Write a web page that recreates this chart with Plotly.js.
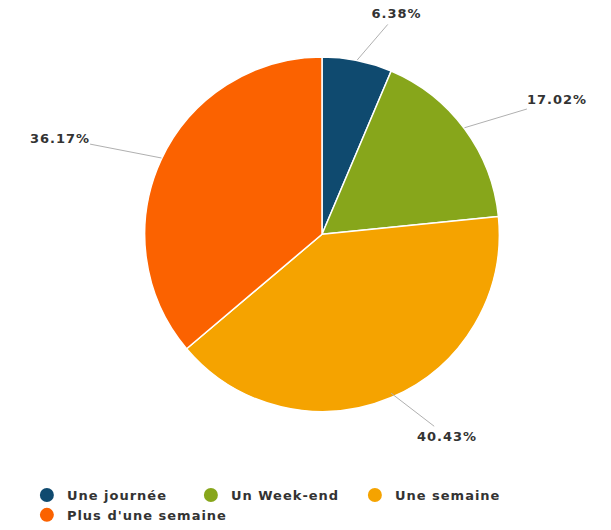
<!DOCTYPE html>
<html><head><meta charset="utf-8">
<script src="https://cdn.plot.ly/plotly-3.0.1.min.js"></script>
<style>
html,body{margin:0;padding:0;background:#fff}
#chart .legendtext, #chart .annotation-text{letter-spacing:1px}
</style>
</head><body><div id="chart" style="width:611px;height:530px"></div>
<script>
const categories = ["Une journée", "Un Week-end", "Une semaine", "Plus d'une semaine"];
const values = [6.38, 17.02, 40.43, 36.17];
const colors = ["#0f4a6f", "#87a61b", "#f5a300", "#fb6200"];

const W = 611, H = 530;
const cx = 322, cy = 236.5, R = 179;

const pie = {
  type: 'pie', labels: categories, values: values, sort: false,
  direction: 'clockwise', rotation: 0, textinfo: 'none', hoverinfo: 'label+percent',
  marker: {colors: colors, line: {color: '#ffffff', width: 1.5}},
  domain: {x: [(cx - R) / W, (cx + R) / W], y: [1 - (cy + R) / H, 1 - (cy - R) / H]},
  showlegend: false
};

const legendTraces = categories.map((c, i) => ({
  type: 'scatter', mode: 'markers', x: [null], y: [null], name: c,
  marker: {symbol: 'circle', size: 14, color: colors[i]}, hoverinfo: 'skip'
}));

const pcx = 322, pcy = 234, pr = 177;
const total = values.reduce((a, b) => a + b, 0);
let cum = 0;
const annotations = values.map((v, i) => {
  const mid = (cum + v / 2) / total; cum += v;
  const a = mid * 2 * Math.PI;
  const dx = Math.sin(a), dy = -Math.cos(a);
  const ex = pcx + pr * dx, ey = pcy + pr * dy;
  const side = dx >= 0 ? 1 : -1;
  const tx = pcx + 265 * dx + side * 22, ty = pcy + 224 * dy;
  return {
    xref: 'paper', yref: 'paper', x: ex / W, y: 1 - ey / H,
    ax: tx - ex, ay: ty - ey, showarrow: true, arrowhead: 0, arrowwidth: 1,
    arrowcolor: '#b0b0b0', standoff: 0, startstandoff: 2,
    text: '<b>' + v.toFixed(2) + '%</b>',
    font: {family: 'DejaVu Sans, sans-serif', size: 13, color: '#333333'}
  };
});

const layout = {
  width: W, height: H, margin: {l: 0, r: 0, t: 0, b: 0},
  paper_bgcolor: '#ffffff', plot_bgcolor: '#ffffff',
  xaxis: {visible: false, domain: [0, 0.01]}, yaxis: {visible: false, domain: [0, 0.01]},
  showlegend: true,
  legend: {orientation: 'h', x: 0.044, y: 0.085, xanchor: 'left', yanchor: 'top',
    entrywidth: 119, entrywidthmode: 'pixels', itemwidth: 30, tracegroupgap: 0,
    font: {family: 'DejaVu Sans, sans-serif', size: 13, color: '#333333', weight: 'bold'}},
  annotations: annotations
};

Plotly.newPlot('chart', [pie].concat(legendTraces), layout, {displayModeBar: false, staticPlot: true});
</script></body></html>
